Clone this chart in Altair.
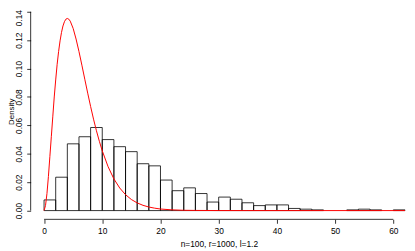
import altair as alt
import pandas as pd

# Histogram (bin width 2)
bin_start = [0, 2, 4, 6, 8, 10, 12, 14, 16, 18, 20, 22, 24, 26, 28, 30,
             32, 34, 36, 38, 40, 42, 44, 46, 48, 50, 52, 54, 56, 58, 60]
bin_width = 2
density = [0.0075, 0.0235, 0.047, 0.052, 0.0585, 0.05, 0.045, 0.0415, 0.033, 0.0315,
           0.0215, 0.014, 0.016, 0.012, 0.006, 0.0095, 0.008, 0.0055, 0.0035, 0.004,
           0.004, 0.0015, 0.001, 0.0005, 0.0, 0.0, 0.0005, 0.001, 0.0005, 0.0, 0.0005]

# Red density curve
curve_x = [0, 0.25, 0.5, 0.75, 1, 1.25, 1.5, 1.75, 2, 2.25, 2.5, 2.75, 3, 3.25, 3.5, 3.75,
           4, 4.25, 4.5, 5, 5.5, 6, 6.5, 7, 7.5, 8, 8.5, 9, 9.5, 10, 11, 12, 13, 14, 15,
           16, 17, 18, 19, 20, 22, 24, 26, 30, 35, 62]
curve_y = [0, 0.0035, 0.012, 0.024, 0.038, 0.052, 0.066, 0.080, 0.092, 0.103, 0.112, 0.1195,
           0.1255, 0.130, 0.133, 0.1348, 0.1353, 0.1348, 0.1334, 0.1283, 0.1208, 0.112, 0.1024,
           0.0925, 0.0827, 0.0733, 0.0644, 0.0562, 0.0488, 0.0421, 0.0309, 0.0223, 0.0159,
           0.0112, 0.0078, 0.0054, 0.0037, 0.0025, 0.0017, 0.0011, 0.0005, 0.0002, 0.0001,
           0.00002, 0.0, 0.0]

x_ticks = [0, 10, 20, 30, 40, 50, 60]
y_ticks = [0.0, 0.02, 0.04, 0.06, 0.08, 0.10, 0.12, 0.14]
x_title = "n=100, r=1000, l=1.2"
y_title = "Density"

hist_df = pd.DataFrame({"start": bin_start,
                        "end": [s + bin_width for s in bin_start],
                        "density": density})
hist_df = hist_df[hist_df["density"] > 0]
curve_df = pd.DataFrame({"x": curve_x, "y": curve_y})
xaxis_df = pd.DataFrame({"a": [min(x_ticks)], "b": [max(x_ticks)]})
yaxis_df = pd.DataFrame({"a": [min(y_ticks)], "b": [max(y_ticks)]})

W, H = 382, 212.7
FONT = "Liberation Sans"
xscale = alt.Scale(domain=[-2.3, 62.35], nice=False, zero=False)
yscale = alt.Scale(domain=[-0.00617, 0.1414], nice=False, zero=False)

top_tick = max(y_ticks)

bars = alt.Chart(hist_df).mark_rect(fill="transparent", stroke="#000000", strokeWidth=0.8).encode(
    x=alt.X("start:Q", scale=xscale, title=x_title),
    x2="end:Q",
    y=alt.Y("density:Q", scale=yscale, title=y_title),
    y2=alt.datum(0),
)

curve = alt.Chart(curve_df).mark_line(color="#FF0000", strokeWidth=1).encode(
    x=alt.X("x:Q", scale=xscale, title=x_title),
    y=alt.Y("y:Q", scale=yscale, title=y_title),
)

xline = alt.Chart(xaxis_df).mark_rule(color="#000", strokeWidth=0.8).encode(
    x=alt.X("a:Q", scale=xscale, title=x_title), x2="b:Q", y=alt.value(H))
yline = alt.Chart(yaxis_df).mark_rule(color="#000", strokeWidth=0.8).encode(
    y=alt.Y("a:Q", scale=yscale, title=y_title), y2="b:Q", x=alt.value(0))

chart = alt.layer(bars, curve, xline, yline).properties(
    width=W, height=H,
    autosize=alt.AutoSizeParams(type="none"),
    padding={"left": 23, "top": 0, "right": 0, "bottom": 30},
    background="white",
).configure_view(strokeWidth=0).configure_axis(
    domain=False, grid=False, tickSize=4, tickColor="#000", tickWidth=0.8,
    labelFont=FONT, labelFontSize=8.5, labelColor="#000", labelPadding=3.5,
    labelFlush=False, labelOverlap=False,
    titleFont=FONT, titleFontSize=8.5, titleFontWeight="normal", titleColor="#000",
).configure_axisX(
    titlePadding=5, tickCount=len(x_ticks),
    labelExpr="format(datum.value, 'd')",
).configure_axisY(
    tickCount=len(y_ticks),
    labelExpr="format(datum.value, '.2f')",
    labelOffset=alt.ExprRef(expr=f"datum.value > {top_tick - 0.001} ? 6 : 0"),
    labelAngle=270, labelAlign="center", labelBaseline="bottom", labelPadding=3,
    titleAngle=270, titleAlign="center", titleBaseline="middle", titleFontSize=8,
    titleX=-19, titleY=103,
)

chart.save("out.html", embed_options={"renderer": "svg", "actions": False})
